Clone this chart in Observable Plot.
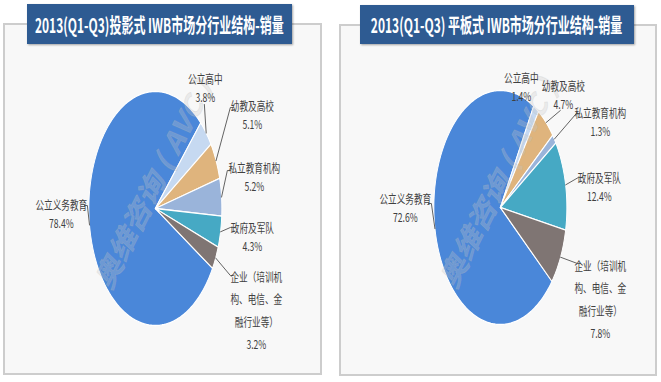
<!DOCTYPE html>
<html><head><meta charset="utf-8">
<script src="https://cdn.jsdelivr.net/npm/d3@7"></script>
<script src="https://cdn.jsdelivr.net/npm/@observablehq/plot@0.6"></script>
<style>
html,body{margin:0;padding:0;background:#fff;}
#root{position:relative;width:661px;height:382px;overflow:hidden;font-family:"Noto Sans CJK SC","Noto Sans",sans-serif;}
.box{position:absolute;border:2px solid #cdcdcd;background:#f8f8f8;box-sizing:border-box;}
.bar{position:absolute;background:#2e5b92;color:#fff;display:flex;align-items:center;justify-content:center;box-shadow:1px 1px 2px rgba(0,0,0,.35);overflow:visible;}
.bar span{display:inline-block;transform:scaleX(0.6);white-space:nowrap;font-weight:bold;font-size:20px;letter-spacing:0;}
.plot{position:absolute;top:44px;transform-origin:0 0;}
</style></head><body><div id="root"></div>
<script>
// ---- data ----
const categories = ["公立义务教育","公立高中","幼教及高校","私立教育机构","政府及军队","企业（培训机构、电信、金融行业等）"];
const projectorShares = [78.4, 3.8, 5.1, 5.2, 4.3, 3.2];
const flatPanelShares = [72.6, 1.4, 4.7, 1.3, 12.4, 7.8];
const sliceColors = ["#4a87d9","#c6d9f1","#dfb47d","#9ab4da","#46a9c4","#7f7573"];
const titles = ["2013(Q1-Q3)投影式 IWB市场分行业结构-销量","2013(Q1-Q3) 平板式 IWB市场分行业结构-销量"];
const watermark = "奥维咨询 ( AVC )";

// ---- layout ----
const S = 0.72;          // horizontal squash of the drawing
const RX = 66.5, RY = 117, H = 338;
const panels = [
  {shares: projectorShares, title: titles[0], left: 0, width: 330, box: [3,23,319,352], bar: [27,4,265,40], cx: 155, cy: 164, anchor: 43,
   labels: [[-94,-11],[50,-137],[97,-110],[99,-48],[97,12],[101,58]],
   leaders: [[-68,-3,-3],[49,-104,0],[75,-101,3],[72,-38,3],[75,19,3],[75,67,3]]},
  {shares: flatPanelShares, title: titles[1], left: 330, width: 331, box: [339,24,318,352], bar: [360,5,274,39], cx: 170, cy: 163, anchor: 30,
   labels: [[-95,-16],[21,-137],[63,-129],[100,-102],[99,-37],[100,48]],
   leaders: [[-69,-4,-3],null,[60,-97,0],[76,-94,3],[78,-30,3],[77,56,3]]}
];

function wrap(s, n = 6) {
  if (s.length <= n) return s;
  const out = [];
  for (let i = 0; i < s.length; i += n) out.push(s.slice(i, i + n));
  return out.join("\n");
}

const root = document.getElementById("root");
panels.forEach((p, pi) => {
  const box = document.createElement("div");
  box.className = "box";
  Object.assign(box.style, {left: p.box[0]+"px", top: p.box[1]+"px", width: p.box[2]+"px", height: p.box[3]+"px"});
  root.appendChild(box);

  const total = d3.sum(p.shares);
  let a = p.anchor - p.shares[0] / total * 360;
  const slices = [], mids = [];
  p.shares.forEach((v, i) => {
    const a0 = a, a1 = a + v / total * 360; a = a1;
    mids.push((a0 + a1) / 2);
    const n = Math.max(2, Math.ceil(a1 - a0));
    slices.push({cat: categories[i], x: 0, y: 0});
    for (let k = 0; k <= n; k++) {
      const t = (a0 + (a1 - a0) * k / n) * Math.PI / 180;
      slices.push({cat: categories[i], x: Math.sin(t), y: Math.cos(t)});
    }
    slices.push({cat: categories[i], x: 0, y: 0});
  });
  const rim = d3.range(0, 361, 2).map(d => ({x: 1.01*Math.sin(d*Math.PI/180), y: 1.01*Math.cos(d*Math.PI/180)}));

  const labels = categories.map((c, i) => ({
    text: wrap(c) + "\n" + p.shares[i].toFixed(1) + "%",
    x: p.labels[i][0] / RX, y: -p.labels[i][1] / RY, long: c.length > 6
  }));
  const leaders = [];
  categories.forEach((c, i) => {
    const e = p.leaders[i]; if (!e) return;
    const t = mids[i] * Math.PI / 180;
    leaders.push({k: i, x: Math.sin(t), y: Math.cos(t)});
    leaders.push({k: i, x: e[0] / RX, y: -e[1] / RY});
    if (e[2]) leaders.push({k: i, x: (e[0] + e[2]) / RX, y: -e[1] / RY});
  });

  const W = p.width / S;
  const svg = Plot.plot({
    width: W, height: H, margin: 0,
    x: {axis: null, domain: [-p.cx / RX, (p.width - p.cx) / RX]},
    y: {axis: null, domain: [-(H - p.cy) / RY, p.cy / RY]},
    color: {domain: categories, range: sliceColors},
    style: {background: "transparent", fontFamily: "'Noto Sans CJK SC', sans-serif", fontSize: "12px", overflow: "visible"},
    marks: [
      Plot.line(rim, {x: "x", y: "y", fill: "#8c8c8c", stroke: "#a0a0a0", strokeWidth: 3, dx: -1, dy: 2, ariaLabel: "pie-shadow"}),
      Plot.line(slices, {x: "x", y: "y", z: "cat", fill: "cat", stroke: "white", strokeWidth: 1.3, strokeLinejoin: "round"}),
      Plot.text([watermark], {x: () => 0.0, y: () => 0.22, text: d => d, rotate: -55, fontSize: 34, fontWeight: "bold", fill: "#c8c8c8", fillOpacity: 0.3, stroke: "#b5b5b5", strokeOpacity: 0.22, strokeWidth: 1}),
      Plot.line(leaders, {x: "x", y: "y", z: "k", stroke: "#4a4a4a", strokeWidth: 1}),
      Plot.text(labels.filter(d => !d.long), {x: "x", y: "y", text: "text", lineAnchor: "top", lineHeight: 1.5, fontSize: 12, fill: "#404040"}),
      Plot.text(labels.filter(d => d.long), {x: "x", y: "y", text: "text", lineAnchor: "top", lineHeight: 1.85, fontSize: 12, fill: "#404040"})
    ]
  });
  svg.classList.add("plot");
  svg.style.left = p.left + "px";
  svg.style.transform = `scaleX(${S})`;
  // soft shadow behind the pie
  const ns = "http://www.w3.org/2000/svg";
  const defs = document.createElementNS(ns, "defs");
  const f = document.createElementNS(ns, "filter");
  f.setAttribute("id", "shadow" + pi);
  f.setAttribute("x", "-20%"); f.setAttribute("y", "-20%"); f.setAttribute("width", "140%"); f.setAttribute("height", "140%");
  const b = document.createElementNS(ns, "feGaussianBlur");
  b.setAttribute("stdDeviation", "2.2");
  f.appendChild(b); defs.appendChild(f); svg.insertBefore(defs, svg.firstChild);
  const sg = svg.querySelector('g[aria-label="pie-shadow"]');
  if (sg) sg.setAttribute("filter", `url(#shadow${pi})`);
  root.appendChild(svg);

  const bar = document.createElement("div");
  bar.className = "bar";
  Object.assign(bar.style, {left: p.bar[0]+"px", top: p.bar[1]+"px", width: p.bar[2]+"px", height: p.bar[3]+"px"});
  const span = document.createElement("span");
  span.textContent = p.title;
  bar.appendChild(span);
  root.appendChild(bar);
});
</script></body></html>
